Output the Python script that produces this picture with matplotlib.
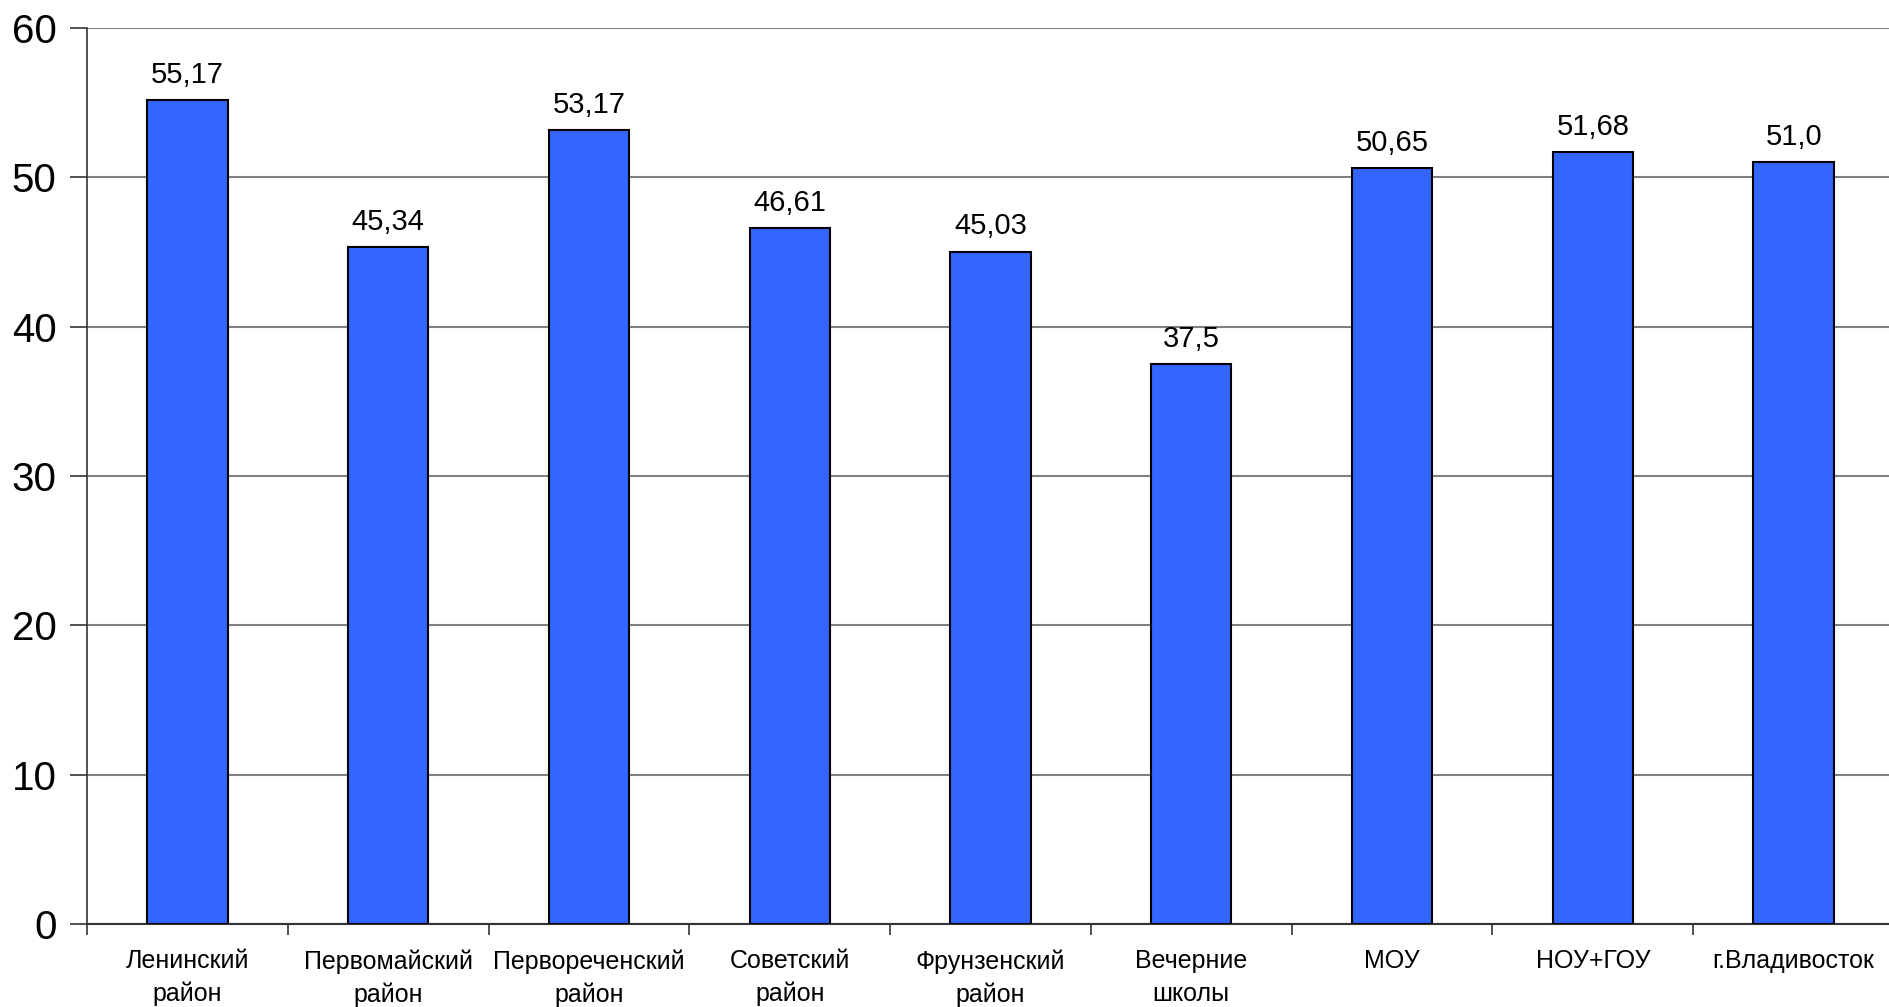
import numpy as np
import matplotlib.pyplot as plt

categories = ['Ленинский\nрайон', 'Первомайский\nрайон', 'Первореченский\nрайон',
              'Советский\nрайон', 'Фрунзенский\nрайон', 'Вечерние\nшколы',
              'МОУ', 'НОУ+ГОУ', 'г.Владивосток']
values = [55.17, 45.34, 53.17, 46.61, 45.03, 37.5, 50.65, 51.68, 51.0]
value_labels = ['55,17', '45,34', '53,17', '46,61', '45,03', '37,5', '50,65', '51,68', '51,0']

plt.rcParams['font.family'] = ['Liberation Sans', 'DejaVu Sans']

fig = plt.figure(figsize=(18.89, 10.07), dpi=100)
ax = fig.add_axes([87 / 1889, 83 / 1007, 1807 / 1889, 896 / 1007])

x = np.arange(len(categories))
bars = ax.bar(x, values, width=0.4, color='#3366FF', edgecolor='black', linewidth=1.5, zorder=3)
ax.bar_label(bars, labels=value_labels, padding=8, fontsize=21)

ax.set_xlim(-0.5, len(categories) - 0.5)
ax.set_ylim(0, 60)
ax.set_yticks(range(0, 61, 10))
ax.tick_params(axis='y', labelsize=29, length=12, width=1.2, pad=10, color='#333333')
ax.yaxis.grid(True, color='#808080', linewidth=1.5, zorder=0)

ax.set_xticks(x)
ax.set_xticklabels(categories, fontsize=18, linespacing=1.45)
ax.tick_params(axis='x', length=0, pad=18)
ax.set_xticks(np.arange(-0.5, len(categories), 1), minor=True)
ax.tick_params(axis='x', which='minor', length=8, width=1.2, color='#333333')

ax.spines['top'].set_visible(False)
ax.spines['right'].set_visible(False)
ax.spines['left'].set_linewidth(1.2)
ax.spines['bottom'].set_linewidth(1.5)
ax.spines['bottom'].set_color('#333333')
ax.spines['left'].set_color('#333333')

plt.savefig('out.png', dpi=100)
